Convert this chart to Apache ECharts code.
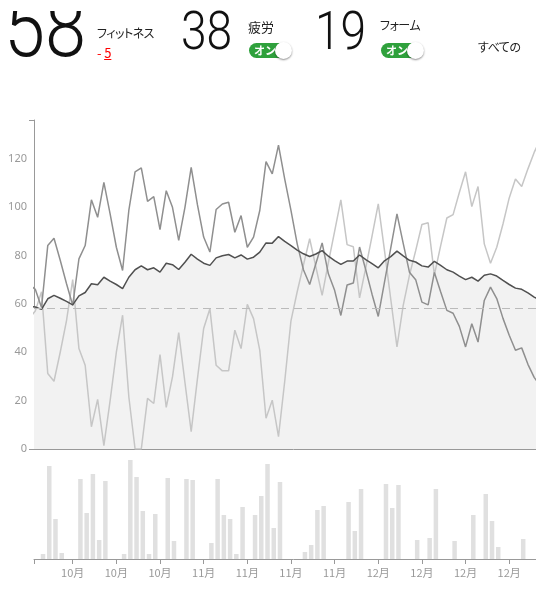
<!DOCTYPE html>
<html>
<head>
<meta charset="utf-8">
<script src="https://cdn.jsdelivr.net/npm/echarts@6/dist/echarts.min.js"></script>
<style>
html,body{margin:0;padding:0;width:536px;height:608px;overflow:hidden;background:#fff;}
#chart{position:absolute;left:0;top:0;width:600px;height:608px;}
.big{position:absolute;font-family:Roboto,'Noto Sans',sans-serif;font-weight:300;color:#111;line-height:1;white-space:nowrap;z-index:5;transform-origin:0 0;transform:scaleX(0.87);}
.clip{position:absolute;left:0;top:11px;width:95px;height:60px;overflow:hidden;z-index:5;}
.lab{position:absolute;font-family:'Noto Sans CJK JP',sans-serif;font-size:12px;letter-spacing:-0.5px;color:#222;font-feature-settings:"palt";white-space:nowrap;line-height:1;z-index:5;}
.red{color:#f00;letter-spacing:0;}
.red u{text-decoration:underline;}
.tog{position:absolute;width:42px;height:15px;border-radius:8px;background:#2fa13c;z-index:5;}
.tog .t{position:absolute;left:5px;top:1px;font-family:'Noto Sans CJK JP',sans-serif;font-size:11px;font-weight:700;color:#fff;line-height:13px;}
.tog .k{position:absolute;left:26px;top:-1px;width:17px;height:17px;border-radius:50%;background:#fff;box-shadow:0 1px 2px rgba(0,0,0,0.45);}
</style>
</head>
<body>
<div id="chart"></div>
<div class="clip"><div class="big" id="vFit" style="left:4px;top:-26px;font-size:85px;"></div></div>
<div class="lab" id="lFit" style="left:97px;top:27px;"></div>
<div class="lab red" id="dFit" style="left:97px;top:46px;font-size:13px;"></div>
<div class="big" id="vFat" style="left:181px;top:5px;font-size:53px;"></div>
<div class="lab" id="lFat" style="left:248px;top:20px;font-size:13px;letter-spacing:0;"></div>
<div class="tog" style="left:249px;top:43px;"><span class="t">オン</span><span class="k"></span></div>
<div class="big" id="vForm" style="left:315px;top:5px;font-size:53px;"></div>
<div class="lab" id="lForm" style="left:380px;top:19px;"></div>
<div class="tog" style="left:381px;top:43px;"><span class="t">オン</span><span class="k"></span></div>
<div class="lab" id="lAll" style="left:478px;top:41px;"></div>
<script>
// ---- header values ----
const headerValues = {fitness: 58, fatigue: 38, form: 19, fitnessDelta: -5};
const headerLabels = {fitness: 'フィットネス', fatigue: '疲労', form: 'フォーム', all: 'すべての'};

// ---- daily series (day index 0..82) ----
const fitness = [59,58.7,57.7,62.1,63.5,62.3,61,59.6,63.3,64.7,68.3,67.9,71,69.4,68,66.3,71,74.1,75.7,74.1,
  74.9,73.1,76.8,76.2,74.2,77.2,80.5,78.5,76.8,75.9,79,79.9,80.4,79,80.2,78.5,79.3,81.4,85.2,85.1,
  87.8,85.8,84.1,82.2,80.7,79.6,80.6,82,79.7,77.9,76.3,77.7,77.7,80.2,78.3,76.6,74.9,77.8,79.5,81.8,
  79.8,78,77.3,75.7,75.2,77.6,75.9,74.1,73.1,71.5,70,71,69.4,71.8,72.4,71.5,69.7,68,66.5,66,
  64.5,62.8,61.5];
const fatigue = [68,66,58.5,84.1,87.1,78,68.4,59.4,78.6,84.1,103,95.8,110.2,97.2,83.4,73.8,98.6,114.6,116.2,102.4,
  104.3,90.7,106.8,99.9,86.2,99.9,116.4,101,87.6,81.4,99,101.3,102,89.6,96.5,83.4,87.6,98.6,118.8,113.7,
  125.6,111.6,98.6,84.8,74.1,68,76.7,85.2,72.4,65.6,55.2,67.8,68.6,83.5,74,64,54.8,69,83,97.2,
  85,73.1,70,60.7,59.6,73,65,57.3,56.1,50.7,42.2,51.8,44.2,61.4,66.9,62.2,54,47,40.8,41.8,
  35,29.6,26];
const form = [54,57,65,31.2,28,40,53,70,41.5,34.6,9.2,20.5,1.4,20,40,55.3,21.6,0,0,20.9,
  18.8,39,17.2,29.8,48.1,27.5,7.2,29,49.8,58,34.6,32.3,32.3,49.1,41.5,59.8,53.9,40.8,12.7,20.2,
  5.1,28,53,65,76,86.9,75.2,63.5,77,90,103,84.5,83.6,62.5,75,88,101.3,82,62,42.2,
  59.4,71.8,82,92.8,93.5,72,84,95.5,96.9,106,114.6,100.2,108.5,84.8,76.8,83.4,93,103.8,111.6,108.5,
  115.8,122.6,128];
// ---- daily training load bars, starting at day loadStartDay ----
const loadStartDay = 2;
const trainingLoad = [5,93,40,6,0,0,80,46,85,19,78,0,0,5,99,82,48,5,45,0,
  81,18,0,80,79,0,0,16,80,44,40,5,52,0,44,63,95,31,77,0,
  0,0,7,14,49,53,0,0,0,57,28,70,0,0,0,75,51,74,0,0,
  19,0,21,70,0,0,18,0,0,44,0,65,38,12,0,0,0,20,0,0];
// ---- axis ticks ----
const xTickDays = [7,14,21,28,35,42,49,56,63,70,77];
const xTickLabels = ['10月','10月','10月','11月','11月','11月','11月','12月','12月','12月','12月'];
const yTickValues = [0,20,40,60,80,100,120];

// ---- layout constants ----
const xMin = 0.794, xMax = 84, yMax = 136, barMax = 100;
const pxPerDay = 6.236, barShift = 0.24;
const gridW = (xMax - xMin) * pxPerDay;

document.getElementById('vFit').textContent = headerValues.fitness;
document.getElementById('vFat').textContent = headerValues.fatigue;
document.getElementById('vForm').textContent = headerValues.form;
document.getElementById('lFit').textContent = headerLabels.fitness;
document.getElementById('lFat').textContent = headerLabels.fatigue;
document.getElementById('lForm').textContent = headerLabels.form;
document.getElementById('lAll').textContent = headerLabels.all;
const d = headerValues.fitnessDelta;
document.getElementById('dFit').innerHTML = (d < 0 ? '-' : '+') + '&thinsp;<u>' + Math.abs(d) + '</u>';

const chart = echarts.init(document.getElementById('chart'), null, {renderer: 'canvas'});
const toPairs = arr => arr.map((v, i) => [i, v]);
chart.setOption({
  animation: false,
  grid: [
    {left: 34, top: 120, height: 329, width: gridW},
    {left: 34, top: 459, height: 100, width: gridW}
  ],
  xAxis: [
    {type: 'value', gridIndex: 0, min: xMin, max: xMax,
      axisLine: {onZero: false, lineStyle: {color: '#999', width: 1}},
      axisTick: {show: false}, axisLabel: {show: false}, splitLine: {show: false}},
    {type: 'value', gridIndex: 1, min: xMin, max: xMax,
      axisLine: {onZero: false, lineStyle: {color: '#999', width: 1}},
      axisTick: {show: true, length: 5, lineStyle: {color: '#999'}, customValues: [xMin].concat(xTickDays)},
      axisLabel: {customValues: xTickDays, color: '#999', fontSize: 11, margin: 8,
        fontFamily: "'Noto Sans CJK JP', sans-serif",
        formatter: v => xTickLabels[xTickDays.indexOf(v)] || ''},
      splitLine: {show: false}}
  ],
  yAxis: [
    {type: 'value', gridIndex: 0, min: 0, max: yMax,
      axisLine: {show: true, onZero: false, lineStyle: {color: '#999', width: 1}},
      axisTick: {show: true, length: 5, lineStyle: {color: '#999'}, customValues: [0, yMax]},
      axisLabel: {customValues: yTickValues, color: '#999', fontSize: 11, margin: 7,
        fontFamily: "'Noto Sans', sans-serif"},
      splitLine: {show: false}},
    {type: 'value', gridIndex: 1, min: 0, max: barMax, show: false, splitLine: {show: false}}
  ],
  series: [
    {type: 'line', name: 'area', xAxisIndex: 0, yAxisIndex: 0, data: toPairs(fitness),
      symbol: 'none', lineStyle: {width: 0}, areaStyle: {color: '#f2f2f2', opacity: 1}, z: 1,
      markLine: {silent: true, symbol: 'none', label: {show: false},
        lineStyle: {color: '#bbb', type: [8, 5], width: 1},
        data: [{yAxis: headerValues.fitness}]}},
    {type: 'line', name: 'フォーム', xAxisIndex: 0, yAxisIndex: 0, data: toPairs(form),
      symbol: 'none', lineStyle: {color: '#c6c6c6', width: 1.5}, z: 2},
    {type: 'line', name: '疲労', xAxisIndex: 0, yAxisIndex: 0, data: toPairs(fatigue),
      symbol: 'none', lineStyle: {color: '#8f8f8f', width: 1.5}, z: 3},
    {type: 'line', name: 'フィットネス', xAxisIndex: 0, yAxisIndex: 0, data: toPairs(fitness),
      symbol: 'none', lineStyle: {color: '#505050', width: 1.5}, z: 4},
    {type: 'bar', xAxisIndex: 1, yAxisIndex: 1, barWidth: 4.5,
      data: trainingLoad.map((v, k) => [k + loadStartDay + barShift, v]),
      itemStyle: {color: '#e0e0e0'}}
  ]
});
</script>
</body>
</html>
